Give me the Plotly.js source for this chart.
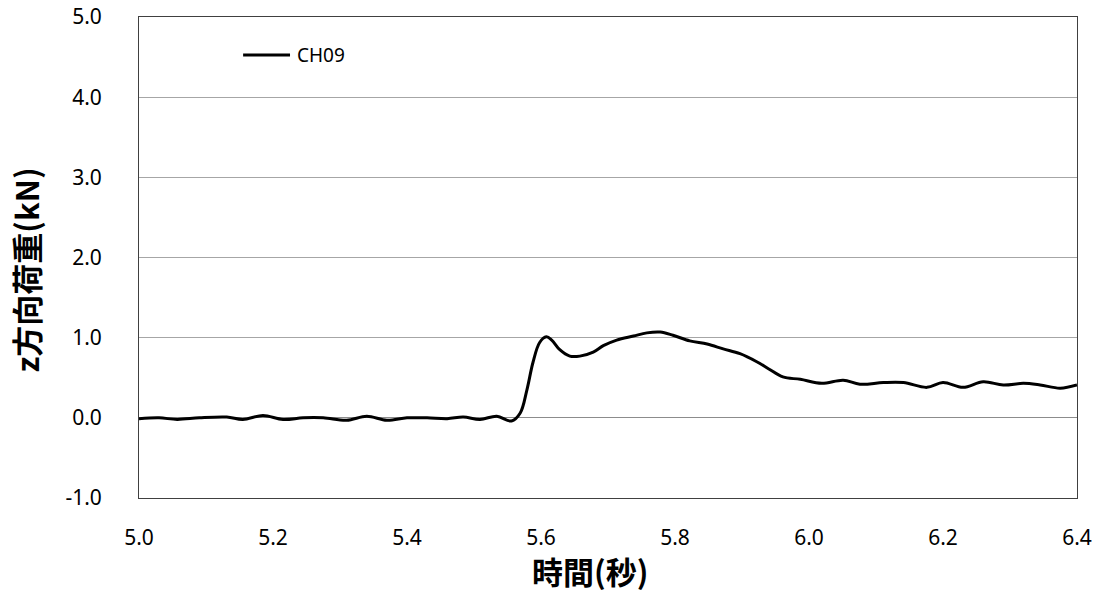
<!DOCTYPE html>
<html>
<head>
<meta charset="utf-8">
<script src="https://cdn.plot.ly/plotly-3.0.1.min.js"></script>
<style>
  html, body { margin: 0; padding: 0; background: #fff; }
  #chart { width: 1099px; height: 593px; }
</style>
</head>
<body>
<div id="chart"></div>
<script>
// Time (s) and z-direction load (kN) for channel CH09
const seriesName = 'CH09';
const timeSec = [
  5.000, 5.030, 5.057, 5.090, 5.131, 5.155, 5.185, 5.215, 5.245, 5.275,
  5.310, 5.340, 5.370, 5.400, 5.430, 5.460, 5.484, 5.509, 5.534, 5.556,
  5.569, 5.579, 5.588, 5.598, 5.608, 5.616, 5.628, 5.643, 5.658, 5.678,
  5.693, 5.713, 5.738, 5.758, 5.778, 5.797, 5.822, 5.848, 5.872, 5.897,
  5.922, 5.940, 5.961, 5.987, 6.019, 6.051, 6.076, 6.111, 6.141, 6.176,
  6.200, 6.230, 6.260, 6.290, 6.320, 6.345, 6.375, 6.400
];
const loadKN = [
  -0.01, 0.00, -0.02, 0.00, 0.01, -0.02, 0.03, -0.02, 0.00, 0.00,
  -0.03, 0.02, -0.03, 0.00, 0.00, -0.01, 0.01, -0.02, 0.02, -0.04,
  0.06, 0.35, 0.69, 0.94, 1.01, 0.97, 0.85, 0.77, 0.77, 0.82,
  0.90, 0.97, 1.02, 1.06, 1.07, 1.03, 0.96, 0.92, 0.86, 0.80,
  0.70, 0.61, 0.51, 0.48, 0.43, 0.47, 0.42, 0.44, 0.44, 0.38,
  0.44, 0.38, 0.45, 0.41, 0.43, 0.41, 0.37, 0.41
];

// Axis ticks
const xTickVals = [5.0, 5.2, 5.4, 5.6, 5.8, 6.0, 6.2, 6.4];
const xTickText = ['5.0', '5.2', '5.4', '5.6', '5.8', '6.0', '6.2', '6.4'];
const yTickVals = [-1, 0, 1, 2, 3, 4, 5];
const yTickText = ['-1.0', '0.0', '1.0', '2.0', '3.0', '4.0', '5.0'];

const xTitle = '時間(秒)';
const yTitle = 'z方向荷重(kN)';

const tickFont = { family: 'Noto Sans, Open Sans, sans-serif', size: 21, color: '#000' };
const titleFont = { family: 'Noto Sans CJK JP, Noto Sans, sans-serif', size: 31, color: '#000', weight: 'bold' };

const trace = {
  x: timeSec,
  y: loadKN,
  name: seriesName,
  type: 'scatter',
  mode: 'lines',
  line: { color: '#000', width: 3, shape: 'spline', smoothing: 1.0 },
  showlegend: false,
  hoverinfo: 'x+y'
};

// Legend key: short black line with the series name beside it
const legendY = 0.921;
const layout = {
  width: 1099,
  height: 593,
  margin: { l: 139, r: 22, t: 17, b: 95 },
  paper_bgcolor: '#fff',
  plot_bgcolor: '#fff',
  showlegend: false,
  shapes: [{
    type: 'line', xref: 'x domain', yref: 'y domain',
    x0: 0.111, x1: 0.161, y0: legendY, y1: legendY,
    line: { color: '#000', width: 3 }
  }],
  annotations: [
    {
      xref: 'x domain', yref: 'y domain',
      x: 0.166, y: legendY, xanchor: 'left', yanchor: 'middle',
      text: seriesName, showarrow: false,
      font: { family: 'Noto Sans, Open Sans, sans-serif', size: 19, color: '#000' }
    },
    {
      // x-axis title, placed slightly left of the plot centre
      xref: 'paper', yref: 'paper',
      x: 0.481, y: -0.150, xanchor: 'center', yanchor: 'middle',
      text: xTitle, showarrow: false, font: titleFont
    },
    {
      // y-axis title, rotated
      xref: 'paper', yref: 'paper',
      x: -0.122, y: 0.474, xanchor: 'center', yanchor: 'middle',
      text: yTitle, textangle: -90, showarrow: false, font: titleFont
    }
  ],
  xaxis: {
    range: [5.0, 6.4],
    tickmode: 'array',
    tickvals: xTickVals,
    ticktext: xTickText,
    showgrid: false,
    zeroline: false,
    showline: true,
    mirror: true,
    linecolor: '#404040',
    linewidth: 1,
    ticks: '',
    ticklabelstandoff: 21,
    tickfont: tickFont
  },
  yaxis: {
    range: [-1.0, 5.0],
    tickmode: 'array',
    tickvals: yTickVals,
    ticktext: yTickText,
    showgrid: true,
    gridcolor: '#a6a6a6',
    gridwidth: 1,
    zeroline: true,
    zerolinecolor: '#8c8c8c',
    zerolinewidth: 1,
    showline: true,
    mirror: true,
    linecolor: '#404040',
    linewidth: 1,
    ticks: '',
    ticklabelstandoff: 32,
    tickfont: tickFont
  }
};

Plotly.newPlot('chart', [trace], layout, { displayModeBar: false, staticPlot: true });
</script>
</body>
</html>
